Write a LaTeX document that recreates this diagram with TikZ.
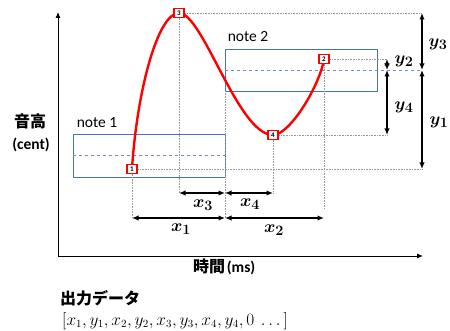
\documentclass[tikz,border=0pt]{standalone}
\usepackage{fontspec}
\setmainfont{Carlito}
\newfontfamily\jpfont{Noto Sans CJK JP}
\usepackage{amsmath,bm}
\usetikzlibrary{arrows.meta}
\definecolor{boxblue}{RGB}{68,114,196}
\definecolor{dashblue}{RGB}{110,140,205}
\begin{document}
\begin{tikzpicture}[x=1pt,y=-1pt,
  axis/.style={line width=0.9pt,-{Latex[length=6pt,width=5pt]}},
  notebox/.style={draw=boxblue,line width=1.3pt,anchor=north west,inner sep=0pt,minimum width=152pt},
  notedash/.style={dashblue,dashed,line width=0.7pt},
  guide/.style={gray!80,densely dotted,line width=0.6pt},
  dim/.style={line width=1.3pt,{Latex[length=6.5pt,width=5.5pt]}-{Latex[length=6.5pt,width=5.5pt]}},
  marker/.style={draw=red,line width=1.1pt,fill=white,inner sep=0pt,minimum width=10pt,minimum height=9pt,font=\fontsize{7}{7}\selectfont\bfseries},
  lbl/.style={font=\fontsize{15.5}{18}\selectfont},
  mlbl/.style={font=\fontsize{19}{22}\selectfont},
  jp/.style={font=\fontsize{16}{19}\selectfont\jpfont\bfseries}]
\useasboundingbox (0,0) rectangle (450,331);

% axes
\coordinate (O) at (58,256);
\coordinate (Ytop) at (58,12);
\coordinate (Xend) at (423,256);
\draw[axis] (O) -- (Ytop);
\draw[axis] (O) -- (Xend);

% note boxes
\node[notebox,minimum height=43pt] (n1) at (73,134) {};
\node[notebox,minimum height=42pt] (n2) at (225,49) {};
\coordinate (d1a) at (73,155);
\coordinate (d1b) at (225,155);
\coordinate (d2a) at (225,70);
\coordinate (d2b) at (422,70);
\draw[notedash] (d1a) -- (d1b);
\draw[notedash] (d2a) -- (d2b);
\node[lbl] (t1) at (97,123) {note 1};
\node[lbl] (t2) at (248,37) {note 2};

% key points
\coordinate (c1) at (132,169);
\coordinate (c2) at (324,59);
\coordinate (c3) at (179,13);
\coordinate (c4) at (273,135);

% guide coordinates
\coordinate (g3r) at (422,13);
\coordinate (g3d) at (179,193);
\coordinate (g1r) at (422,169);
\coordinate (g1d) at (132,218);
\coordinate (g4r) at (387,135);
\coordinate (g4d) at (273,193);
\coordinate (g2r) at (387,59);
\coordinate (g2d) at (324,208);
\coordinate (gmt) at (225,91);
\coordinate (gmd) at (225,219);

\draw[guide] (c3) -- (g3r);
\draw[guide] (c3) -- (g3d);
\draw[guide] (c1) -- (g1r);
\draw[guide] (c1) -- (g1d);
\draw[guide] (c4) -- (g4r);
\draw[guide] (c4) -- (g4d);
\draw[guide] (c2) -- (g2r);
\draw[guide] (c2) -- (g2d);
\draw[guide] (gmt) -- (gmd);

% pitch curve
\draw[red,line width=2.4pt] (c1) .. controls (137,90) and (158,13) .. (c3)
  .. controls (203,13) and (238,135) .. (c4)
  .. controls (290,135) and (320,85) .. (c2);

\node[marker] (p1) at (c1) {1};
\node[marker] (p2) at (c2) {2};
\node[marker] (p3) at (c3) {3};
\node[marker] (p4) at (c4) {4};

% horizontal dimensions
\coordinate (hx3a) at (179,193);
\coordinate (hx3b) at (225,193);
\coordinate (hx4b) at (273,193);
\coordinate (hx1a) at (132,218);
\coordinate (hx1b) at (225,218);
\coordinate (hx2b) at (324,218);
\draw[dim] (hx3a) -- (hx3b);
\draw[dim] (hx3b) -- (hx4b);
\draw[dim] (hx1a) -- (hx1b);
\draw[dim] (hx1b) -- (hx2b);
\node[mlbl] (lx3) at (203,205) {$\bm{x}_{\bm 3}$};
\node[mlbl] (lx4) at (250,204) {$\bm{x}_{\bm 4}$};
\node[mlbl] (lx1) at (181,229) {$\bm{x}_{\bm 1}$};
\node[mlbl] (lx2) at (274,230) {$\bm{x}_{\bm 2}$};

% vertical dimensions
\coordinate (vy3a) at (422,13);
\coordinate (vy3b) at (422,70);
\coordinate (vy1b) at (422,169);
\coordinate (vy2a) at (387,59);
\coordinate (vy2b) at (387,70);
\coordinate (vy4b) at (387,135);
\draw[dim] (vy3a) -- (vy3b);
\draw[dim] (vy3b) -- (vy1b);
\draw[dim] (vy2a) -- (vy2b);
\draw[dim] (vy2b) -- (vy4b);
\node[mlbl] (ly3) at (438,44) {$\bm{y}_{\bm 3}$};
\node[mlbl] (ly1) at (439,122) {$\bm{y}_{\bm 1}$};
\node[mlbl] (ly2) at (404,61) {$\bm{y}_{\bm 2}$};
\node[mlbl] (ly4) at (404,107) {$\bm{y}_{\bm 4}$};

% axis titles
\node[jp] (yt1) at (30,121) {音高};
\node[font=\fontsize{15.5}{18}\selectfont\bfseries] (yt2) at (31,145) {(cent)};
\node[anchor=west,inner sep=0pt] (xt) at (193,267) {{\fontsize{16}{19}\selectfont\jpfont\bfseries 時間}\,{\fontsize{15.5}{18}\selectfont\bfseries (ms)}};

% output
\node[jp,anchor=west,inner sep=0pt] (out1) at (60,298) {出力データ};
\node[anchor=west,inner sep=0pt,font=\fontsize{16}{19}\selectfont] (out2) at (62,321) {$[x_1, y_1, x_2, y_2, x_3, y_3, x_4, y_4, 0\ \ldots\,]$};
\end{tikzpicture}
\end{document}
